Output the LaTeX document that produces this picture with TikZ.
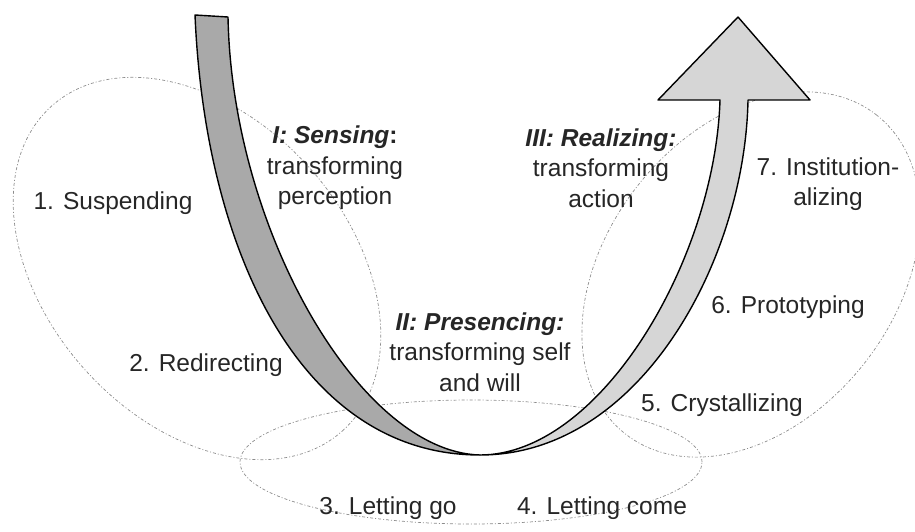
\documentclass[tikz,border=0pt]{standalone}
\usepackage{fontspec}
\setmainfont{Liberation Sans}
\definecolor{bandA}{HTML}{A9A9A9}
\definecolor{bandB}{HTML}{D6D6D6}
\tikzset{
  ell/.style={draw=black!45, line width=0.7pt, dash pattern=on 3pt off 2pt on 1pt off 2pt},
  band/.style={draw=black, line width=1.4pt, line join=round},
  lab/.style={font=\fontsize{24.5}{30.5}\selectfont, text=black!85, align=center, inner sep=0pt},
}
\begin{document}
\begin{tikzpicture}[x=1pt,y=1pt]
\useasboundingbox (0,0) rectangle (915,531);
% phase ellipses
\draw[ell, rotate around={-48.2:(197,262.5)}] (197,262.5) ellipse [x radius=218, y radius=151];
\draw[ell, rotate around={51.7:(751,256.5)}] (751,256.5) ellipse [x radius=203, y radius=144];
\draw[ell] (471,69) ellipse [x radius=231, y radius=62];
% left (descending) band
\filldraw[band, fill=bandA]
  (195,516) .. controls (205,281) and (300,76) .. (480,76)
  .. controls (360,79) and (232,301) .. (228,514) -- cycle;
% right (ascending) band with arrowhead
\filldraw[band, fill=bandB]
  (480,76) .. controls (600,76) and (715,271) .. (720,431)
  -- (658,431) -- (738,514) -- (810,431) -- (748,431)
  .. controls (745,271) and (640,76) .. (480,76) -- cycle;
% labels
\node[lab] (sensing) at (335,363) {\textbf{\textit{I: Sensing}}\textbf{:}\\transforming\\perception};
\node[lab] (realizing) at (601,363) {\textbf{\textit{III: Realizing:}}\\transforming\\action};
\node[lab] (presencing) at (480,179) {\textbf{\textit{II: Presencing:}}\\transforming self\\and will};
\node[lab] (s1) at (113,328) {1. Suspending};
\node[lab] (s2) at (206,166) {2. Redirecting};
\node[lab] (s3) at (388,23) {3. Letting go};
\node[lab] (s4) at (602,23) {4. Letting come};
\node[lab] (s5) at (722,126) {5. Crystallizing};
\node[lab] (s6) at (788,224) {6. Prototyping};
\node[lab] (s7) at (828,347) {7. Institution-\\alizing};
\end{tikzpicture}
\end{document}
